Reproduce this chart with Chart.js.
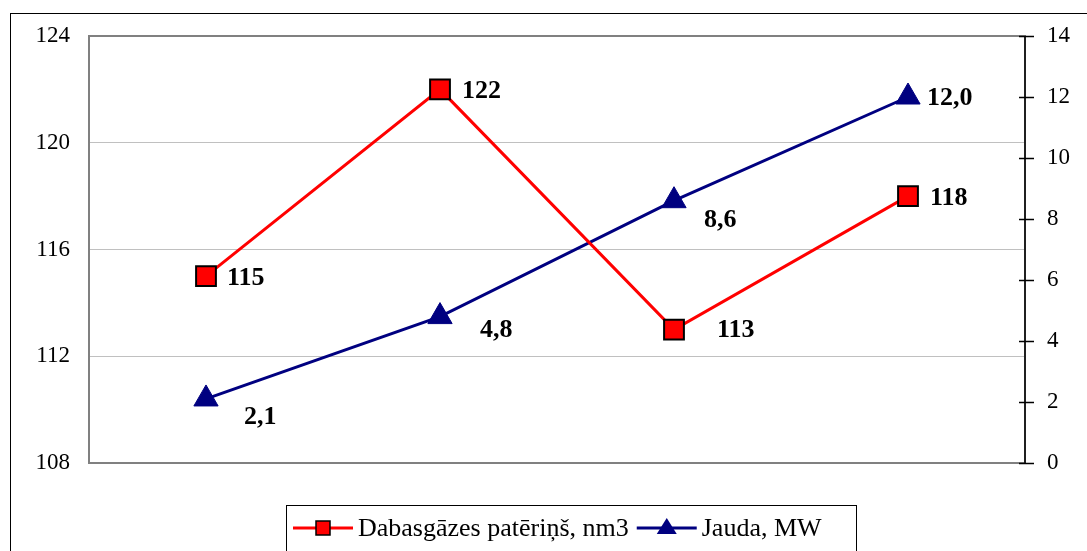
<!DOCTYPE html>
<html lang="lv">
<head>
  <meta charset="UTF-8">
  <title>Dabasgāzes patēriņš un jauda</title>
  <script src="https://cdn.jsdelivr.net/npm/chart.js"></script>
  <style>
    body { margin: 0; background: #fff; }
    #wrap { position: relative; width: 1087px; height: 551px; overflow: hidden; }
    #frame { position: absolute; left: 10px; top: 13px; width: 1200px; height: 700px; border: 1.5px solid #000; }
    canvas { position: absolute; left: 0; top: 0; }
  </style>
</head>
<body>
  <div id="wrap">
    <div id="frame"></div>
    <canvas id="myChart" width="1087" height="551"></canvas>
  </div>

  <script>
    // Data
    var categories = ['1', '2', '3', '4'];
    var gasValues = [115, 122, 113, 118];
    var powerValues = [2.1, 4.8, 8.6, 12.0];
    var gasLabels = ['115', '122', '113', '118'];
    var powerLabels = ['2,1', '4,8', '8,6', '12,0'];
    var leftTicks = [108, 112, 116, 120, 124];
    var rightTicks = [0, 2, 4, 6, 8, 10, 12, 14];
    var legendNames = ['Dabasgāzes patēriņš, nm3', 'Jauda, MW'];

    // label offsets relative to the point (px)
    var gasOffsets = [[21, 2], [22, 2], [43, 1], [22, 2]];
    var powerOffsets = [[38, 18], [40, 14], [30, 20], [19, 1]];

    var serif = '"Liberation Serif", "Times New Roman", serif';

    var frameAndLabels = {
      id: 'frameAndLabels',
      beforeDatasetsDraw: function (chart) {
        var c = chart.ctx, a = chart.chartArea;
        c.save();
        c.strokeStyle = '#808080';
        c.lineWidth = 2;
        c.strokeRect(a.left, a.top, a.right - a.left, a.bottom - a.top);
        // right axis: black line with crossing ticks
        var y2 = chart.scales.y2;
        c.strokeStyle = '#000';
        c.lineWidth = 1.5;
        c.beginPath();
        c.moveTo(a.right, a.top);
        c.lineTo(a.right, a.bottom);
        rightTicks.forEach(function (t) {
          var py = Math.round(y2.getPixelForValue(t)) + 0.5;
          c.moveTo(a.right - 6, py);
          c.lineTo(a.right + 9, py);
        });
        c.stroke();
        c.restore();
      },
      afterDatasetsDraw: function (chart) {
        var c = chart.ctx;
        c.save();
        c.font = 'bold 26px ' + serif;
        c.fillStyle = '#000';
        c.textAlign = 'left';
        c.textBaseline = 'middle';
        var sets = [[gasLabels, gasOffsets], [powerLabels, powerOffsets]];
        sets.forEach(function (s, di) {
          chart.getDatasetMeta(di).data.forEach(function (pt, i) {
            c.fillText(s[0][i], pt.x + s[1][i][0], pt.y + s[1][i][1]);
          });
        });

        // legend
        var bx = 286, by = 505, bw = 570, bh = 46, cy = 528;
        c.strokeStyle = '#000';
        c.lineWidth = 1;
        c.strokeRect(bx + 0.5, by + 0.5, bw, bh);
        c.font = '26px ' + serif;
        var x = bx + 7;
        var colors = ['#ff0000', '#000080'];
        legendNames.forEach(function (name, i) {
          c.strokeStyle = colors[i];
          c.lineWidth = 3;
          c.beginPath();
          c.moveTo(x, cy);
          c.lineTo(x + 60, cy);
          c.stroke();
          var mx = x + 30;
          if (i === 0) {
            c.fillStyle = '#ff0000';
            c.fillRect(mx - 7, cy - 7, 14, 14);
            c.strokeStyle = '#000';
            c.lineWidth = 1.5;
            c.strokeRect(mx - 7, cy - 7, 14, 14);
          } else {
            c.fillStyle = '#000080';
            c.beginPath();
            c.moveTo(mx, cy - 10);
            c.lineTo(mx + 10, cy + 6);
            c.lineTo(mx - 10, cy + 6);
            c.closePath();
            c.fill();
          }
          c.fillStyle = '#000';
          c.fillText(name, x + 65, cy + 1);
          x += 65 + c.measureText(name).width + 8;
        });
        c.restore();
      }
    };

    var ctx = document.getElementById('myChart').getContext('2d');
    var myChart = new Chart(ctx, {
      type: 'line',
      data: {
        labels: categories,
        datasets: [{
          label: legendNames[0],
          data: gasValues,
          yAxisID: 'y',
          borderColor: '#ff0000',
          borderWidth: 3,
          pointStyle: 'rect',
          pointRadius: 14,
          pointBackgroundColor: '#ff0000',
          pointBorderColor: '#000',
          pointBorderWidth: 2,
          tension: 0
        }, {
          label: legendNames[1],
          data: powerValues,
          yAxisID: 'y2',
          borderColor: '#000080',
          borderWidth: 3,
          pointStyle: 'triangle',
          pointRadius: 14,
          pointBackgroundColor: '#000080',
          pointBorderColor: '#000080',
          pointBorderWidth: 1,
          tension: 0
        }]
      },
      options: {
        responsive: false,
        animation: false,
        layout: { padding: { top: 36, bottom: 88, left: 0, right: 0 } },
        plugins: { legend: { display: false }, tooltip: { enabled: false } },
        scales: {
          x: {
            display: false,
            offset: true
          },
          y: {
            position: 'left',
            min: 108,
            max: 124,
            afterFit: function (s) { s.width = 89; },
            afterBuildTicks: function (s) { s.ticks = leftTicks.map(function (v) { return { value: v }; }); },
            grid: {
              drawTicks: false,
              color: function (c) {
                return (c.tick && (c.tick.value === 108 || c.tick.value === 124)) ? 'rgba(0,0,0,0)' : '#c0c0c0';
              },
              lineWidth: 1
            },
            border: { display: false },
            ticks: { color: '#000', padding: 19, font: { family: serif, size: 23 } }
          },
          y2: {
            position: 'right',
            min: 0,
            max: 14,
            afterFit: function (s) { s.width = 62; },
            afterBuildTicks: function (s) { s.ticks = rightTicks.map(function (v) { return { value: v }; }); },
            grid: { display: false, drawOnChartArea: false },
            border: { display: false },
            ticks: { color: '#000', padding: 14, font: { family: serif, size: 23 } }
          }
        }
      },
      plugins: [frameAndLabels]
    });
  </script>
</body>
</html>
